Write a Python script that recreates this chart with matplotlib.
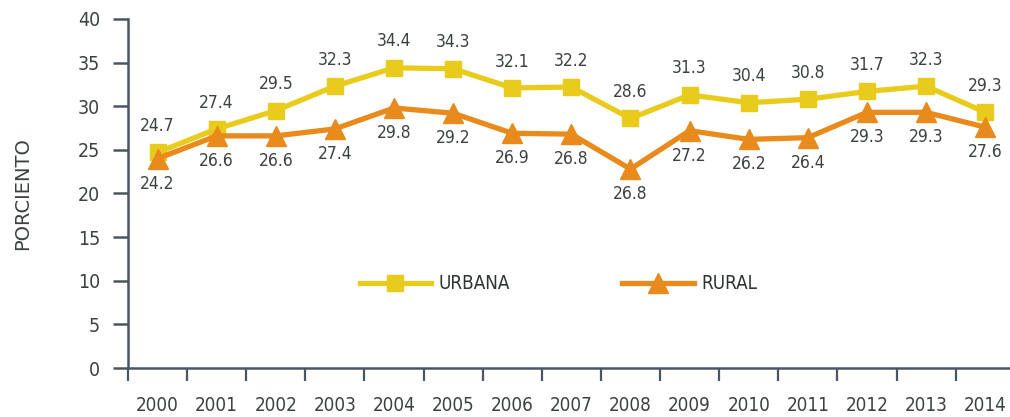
import matplotlib
matplotlib.use("Agg")
import matplotlib.pyplot as plt
import numpy as np

# data
years = [str(y) for y in range(2000, 2015)]
urbana = [24.7, 27.4, 29.5, 32.3, 34.4, 34.3, 32.1, 32.2, 28.6, 31.3, 30.4, 30.8, 31.7, 32.3, 29.3]
rural = [24.0, 26.6, 26.6, 27.4, 29.8, 29.2, 26.9, 26.8, 22.8, 27.2, 26.2, 26.4, 29.3, 29.3, 27.6]
urbana_labels = ["24.7", "27.4", "29.5", "32.3", "34.4", "34.3", "32.1", "32.2",
                 "28.6", "31.3", "30.4", "30.8", "31.7", "32.3", "29.3"]
rural_labels = ["24.2", "26.6", "26.6", "27.4", "29.8", "29.2", "26.9", "26.8",
                "26.8", "27.2", "26.2", "26.4", "29.3", "29.3", "27.6"]
y_ticks = [0, 5, 10, 15, 20, 25, 30, 35, 40]

YELLOW = "#E9CB1B"
ORANGE = "#E88A1C"
TEXT = "#3B423F"
AXIS = "#4A5661"

plt.rcParams['font.family'] = ['DejaVu Sans']
plt.rcParams['font.stretch'] = 'condensed'

fig = plt.figure(figsize=(10.10, 4.17), dpi=100)
ax = fig.add_axes([0.1267, 0.1175, 0.878, 0.837])

x = np.arange(len(years))
ax.plot(x, urbana, color=YELLOW, lw=3.8, marker='s', ms=12, label='URBANA', zorder=3)
ax.plot(x, rural, color=ORANGE, lw=3.8, marker='^', ms=14, label='RURAL', zorder=4)

# value labels
for i in range(len(years)):
    ax.annotate(urbana_labels[i], (x[i], urbana[i]), xytext=(0, 19), textcoords='offset points',
                ha='center', va='center', fontsize=12.5, color=TEXT)
    ax.annotate(rural_labels[i], (x[i], rural[i]), xytext=(0, -18), textcoords='offset points',
                ha='center', va='center', fontsize=12.5, color=TEXT)

ax.set_xlim(-0.5, 14.5)
ax.set_ylim(0, 40)

# spines
for side in ['top', 'right']:
    ax.spines[side].set_visible(False)
for side in ['left', 'bottom']:
    ax.spines[side].set_color(AXIS)
    ax.spines[side].set_linewidth(1.8)

# y axis
ax.set_yticks(y_ticks)
ax.tick_params(axis='y', length=11, width=1.8, color=AXIS, pad=9, labelsize=14, labelcolor=TEXT)
ax.set_ylabel('PORCIENTO', fontsize=14, color=TEXT, labelpad=33, fontstretch='normal')

# x axis: ticks at boundaries, labels centered between them
ax.set_xticks(np.arange(-0.5, 15.0, 1.0))
ax.set_xticklabels([])
ax.tick_params(axis='x', which='major', length=9, width=1.6, color=AXIS)
ax.set_xticks(x, minor=True)
ax.set_xticklabels(years, minor=True)
ax.tick_params(axis='x', which='minor', length=0, pad=20, labelsize=13.5, labelcolor=TEXT)

leg = ax.legend(loc='center', bbox_to_anchor=(0.553, 0.319), bbox_transform=fig.transFigure,
                ncol=2, frameon=False, fontsize=13.5, handlelength=3.8, handletextpad=0.4,
                columnspacing=6.0)
for t in leg.get_texts():
    t.set_color("#2E3333")

fig.savefig('out.png', dpi=100)
